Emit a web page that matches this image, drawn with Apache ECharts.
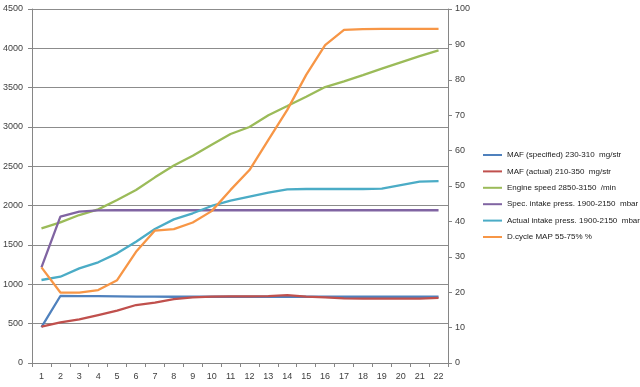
<!DOCTYPE html>
<html><head><meta charset="utf-8">
<script src="https://cdn.jsdelivr.net/npm/echarts@6/dist/echarts.min.js"></script>
<style>html,body{margin:0;padding:0;background:#fff}#c{width:640px;height:387px}</style>
</head><body><div id="c"></div>
<script>
const categories = ['1','2','3','4','5','6','7','8','9','10','11','12','13','14','15','16','17','18','19','20','21','22'];
const seriesNames = ['MAF (specified) 230-310  mg/str','MAF (actual) 210-350  mg/str','Engine speed 2850-3150  /min','Spec. intake press. 1900-2150  mbar','Actual intake press. 1900-2150  mbar','D.cycle MAP 55-75% %'];
const mafSpecified = [455,852,850,850,848,845,843,842,842,842,842,842,842,842,842,842,842,842,842,842,842,842];
const mafActual = [462,517,555,610,665,737,767,813,835,843,847,847,850,864,843,835,822,818,818,818,818,828];
const engineSpeed = [1712,1788,1881,1953,2072,2199,2360,2510,2635,2775,2911,3000,3150,3267,3385,3508,3580,3660,3741,3822,3902,3975];
const specIntake = [1216,1860,1923,1941,1942,1942,1942,1942,1942,1942,1942,1942,1942,1942,1942,1942,1942,1942,1942,1942,1942,1942];
const actualIntake = [1055,1097,1203,1280,1394,1542,1703,1826,1903,1996,2063,2114,2165,2207,2212,2212,2212,2212,2217,2262,2305,2313];
const dutyCycle = [27.0,19.9,19.9,20.6,23.4,31.4,37.4,37.8,39.7,42.9,48.9,54.5,63.0,71.5,81.4,89.8,94.1,94.3,94.4,94.4,94.4,94.4];
const colors = ['#4F81BD','#C0504D','#9BBB59','#8064A2','#4BACC6','#F79646'];
const leftTicks = {min:0,max:4500,interval:500};
const rightTicks = {min:0,max:100,interval:10};

const chart = echarts.init(document.getElementById('c'), null, {renderer:'canvas'});
const datasets = [mafSpecified, mafActual, engineSpeed, specIntake, actualIntake, dutyCycle];
const axisIdx = [0,0,0,0,0,1];
const labelStyle = {color:'#404040', fontSize:9, fontFamily:'Liberation Sans'};
chart.setOption({
  animation:false,
  color: colors,
  grid:{left:28, right:192, top:9, bottom:24, containLabel:false},
  legend:{
    orient:'vertical', left:478, top:146, itemWidth:19, itemHeight:2, itemGap:8.4,
    icon:'rect',
    textStyle:{fontSize:8, color:'#202020', fontFamily:'Liberation Sans'},
    data: seriesNames
  },
  xAxis:{
    type:'category', data:categories, boundaryGap:true,
    axisLine:{lineStyle:{color:'#868686', width:1}},
    axisTick:{show:true, length:4, lineStyle:{color:'#868686'}},
    axisLabel:{...labelStyle, margin:9}
  },
  yAxis:[
    {type:'value', ...leftTicks, position:'left',
     axisLine:{show:true, lineStyle:{color:'#868686'}},
     axisTick:{show:true, length:4, lineStyle:{color:'#868686'}},
     axisLabel:{...labelStyle, margin:9, formatter:v=>String(v)},
     splitLine:{show:true, lineStyle:{color:'#8c8c8c', width:1}}},
    {type:'value', ...rightTicks, position:'right',
     axisLine:{show:true, lineStyle:{color:'#868686'}},
     axisTick:{show:true, length:4, lineStyle:{color:'#868686'}},
     axisLabel:{...labelStyle, margin:7, formatter:v=>String(v)},
     splitLine:{show:false}}
  ],
  series: seriesNames.map((n,i)=>({
    name:n, type:'line', data:datasets[i], yAxisIndex:axisIdx[i],
    symbol:'none', lineStyle:{width:2.3, color:colors[i]}, itemStyle:{color:colors[i]},
    z: [2,3,2,2,2,2][i]
  }))
});
</script></body></html>
